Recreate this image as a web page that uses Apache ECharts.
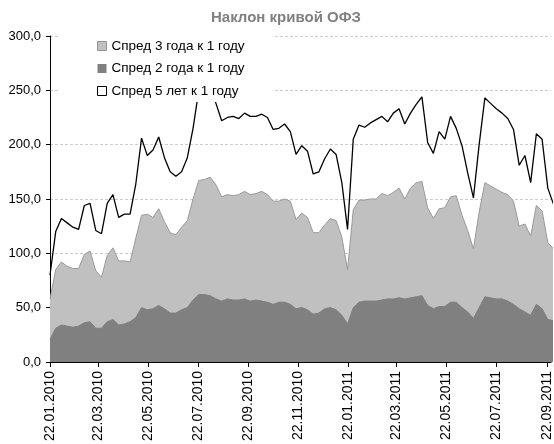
<!DOCTYPE html>
<html><head><meta charset="utf-8">
<script src="https://cdn.jsdelivr.net/npm/echarts@6/dist/echarts.min.js"></script>
<style>html,body{margin:0;padding:0;background:#fff}#c{width:554px;height:444px}</style>
</head><body><div id="c"></div>
<script>
const dates = ['2010-01-22','2010-01-29','2010-02-05','2010-02-12','2010-02-19','2010-02-26','2010-03-05','2010-03-12','2010-03-19','2010-03-26',
'2010-04-02','2010-04-09','2010-04-16','2010-04-23','2010-04-30','2010-05-07','2010-05-14','2010-05-21','2010-05-28','2010-06-04',
'2010-06-11','2010-06-18','2010-06-25','2010-07-02','2010-07-09','2010-07-16','2010-07-23','2010-07-30','2010-08-06','2010-08-13',
'2010-08-20','2010-08-27','2010-09-03','2010-09-10','2010-09-17','2010-09-24','2010-10-01','2010-10-08','2010-10-15','2010-10-22',
'2010-10-29','2010-11-05','2010-11-12','2010-11-19','2010-11-26','2010-12-03','2010-12-10','2010-12-17','2010-12-24','2010-12-31',
'2011-01-07','2011-01-14','2011-01-21','2011-01-28','2011-02-04','2011-02-11','2011-02-18','2011-02-25','2011-03-04','2011-03-11',
'2011-03-18','2011-03-25','2011-04-01','2011-04-08','2011-04-15','2011-04-22','2011-04-29','2011-05-06','2011-05-13','2011-05-20',
'2011-05-27','2011-06-03','2011-06-10','2011-06-17','2011-06-24','2011-07-01','2011-07-08','2011-07-15','2011-07-22','2011-07-29',
'2011-08-05','2011-08-12','2011-08-19','2011-08-26','2011-09-02','2011-09-09','2011-09-16','2011-09-23','2011-09-30'];

const spread3y = [58,85,92,88,86,86,99,102,84,78,
98,105,93,93,92,114,135,136,133,141,
129,119,117,124,130,150,167,168,170,163,
152,154,153,154,157,154,155,157,154,148,
148,150,148,131,137,133,119,119,126,132,
130,115,85,140,149,149,150,150,155,153,
156,160,150,160,165,166,142,132,141,142,
152,153,135,121,104,138,165,162,159,156,
154,148,125,127,116,144,139,110,104];

const spread2y = [21,31,34,33,32,33,36,37,31,31,
37,39,34,35,37,41,50,48,49,52,
49,45,45,48,50,57,62,62,61,58,
56,58,57,57,58,56,57,56,55,53,
55,55,53,49,50,48,44,45,49,50,
48,43,35,50,55,56,56,56,57,58,
58,59,58,59,60,61,52,49,51,51,
55,55,50,46,40,50,60,59,58,58,
56,53,49,46,43,53,49,39,38];

const spread5y = [80,120,132,128,124,122,144,146,121,118,
146,154,133,136,136,164,206,190,195,207,
188,175,171,175,188,215,250,258,255,238,
222,225,226,224,229,226,226,228,225,214,
215,219,212,191,199,194,173,175,187,196,
191,165,122,205,218,216,220,223,226,221,
229,233,219,229,237,244,202,192,212,205,
226,215,199,174,151,200,243,238,233,229,
224,214,181,190,165,210,205,160,145];

const tickDates = ['2010-01-22','2010-03-22','2010-05-22','2010-07-22','2010-09-22','2010-11-22',
'2011-01-22','2011-03-22','2011-05-22','2011-07-22','2011-09-22'];

const seriesNames = ['Спред 3 года к 1 году','Спред 2 года к 1 году','Спред 5 лет к 1 году'];
const titleText = 'Наклон кривой ОФЗ';

const toTs = s => { const p = s.split('-').map(Number); return Date.UTC(p[0], p[1]-1, p[2]); };
const pad = n => (n < 10 ? '0' : '') + n;
const fmtDate = v => { const d = new Date(v); return pad(d.getUTCDate()) + '.' + pad(d.getUTCMonth()+1) + '.' + d.getUTCFullYear(); };
const pairs = arr => dates.map((d, i) => [toTs(d), arr[i]]);
const tickTs = tickDates.map(toTs);

const REG = "'Liberation Sans', Arial, sans-serif";

const chart = echarts.init(document.getElementById('c'), null, {renderer: 'canvas'});
chart.setOption({
  animation: false,
  backgroundColor: '#fff',
  title: {
    text: titleText, left: 211, top: 10, padding: 0,
    textStyle: {fontFamily: REG, fontWeight: 'bold', fontSize: 15, color: '#808080'}
  },
  grid: {left: 50, right: 0, top: 36, bottom: 82, containLabel: false},
  legend: {
    orient: 'vertical', left: 58, top: 32, padding: [6, 28, 3, 39], z: 20,
    backgroundColor: '#fff', itemWidth: 9, itemHeight: 9, itemGap: 6.5,
    textStyle: {fontFamily: REG, fontSize: 13.5, lineHeight: 16, color: '#000'},
    data: [
      {name: seriesNames[0], icon: 'rect', itemStyle: {color: '#c0c0c0', borderColor: '#969696', borderWidth: 1}},
      {name: seriesNames[1], icon: 'rect', itemStyle: {color: '#808080', borderColor: '#808080', borderWidth: 0}},
      {name: seriesNames[2], icon: 'rect', itemStyle: {color: '#ffffff', borderColor: '#000000', borderWidth: 1}}
    ]
  },
  xAxis: {
    type: 'value', min: toTs('2010-01-22'), max: toTs('2011-09-27'), scale: true,
    axisLine: {show: true, onZero: false, lineStyle: {color: '#000', width: 1}},
    axisTick: {show: true, customValues: tickTs, length: 5, lineStyle: {color: '#000'}},
    axisLabel: {show: true, customValues: tickTs, rotate: 90, margin: 9, formatter: fmtDate,
      fontFamily: REG, fontSize: 14, color: '#000', showMinLabel: true, showMaxLabel: true},
    splitLine: {show: false}
  },
  yAxis: {
    type: 'value', min: 0, max: 300, interval: 50,
    axisLine: {show: true, lineStyle: {color: '#000', width: 1}},
    axisTick: {show: true, length: 4, lineStyle: {color: '#000'}},
    axisLabel: {formatter: v => v.toFixed(1).replace('.', ','), margin: 9, color: '#000',
      fontFamily: REG, fontSize: 13},
    splitLine: {show: true, lineStyle: {color: '#cccccc', type: [3, 2], width: 1}}
  },
  series: [
    {name: seriesNames[0], type: 'line', data: pairs(spread3y), symbol: 'none', z: 2,
      color: '#c0c0c0', lineStyle: {color: '#9a9a9a', width: 1}, areaStyle: {color: '#c0c0c0', opacity: 1}},
    {name: seriesNames[1], type: 'line', data: pairs(spread2y), symbol: 'none', z: 2,
      color: '#808080', lineStyle: {color: '#808080', width: 1}, areaStyle: {color: '#808080', opacity: 1}},
    {name: seriesNames[2], type: 'line', data: pairs(spread5y), symbol: 'none', z: 2,
      color: '#000', lineStyle: {color: '#000', width: 1.3}}
  ]
});
</script></body></html>
